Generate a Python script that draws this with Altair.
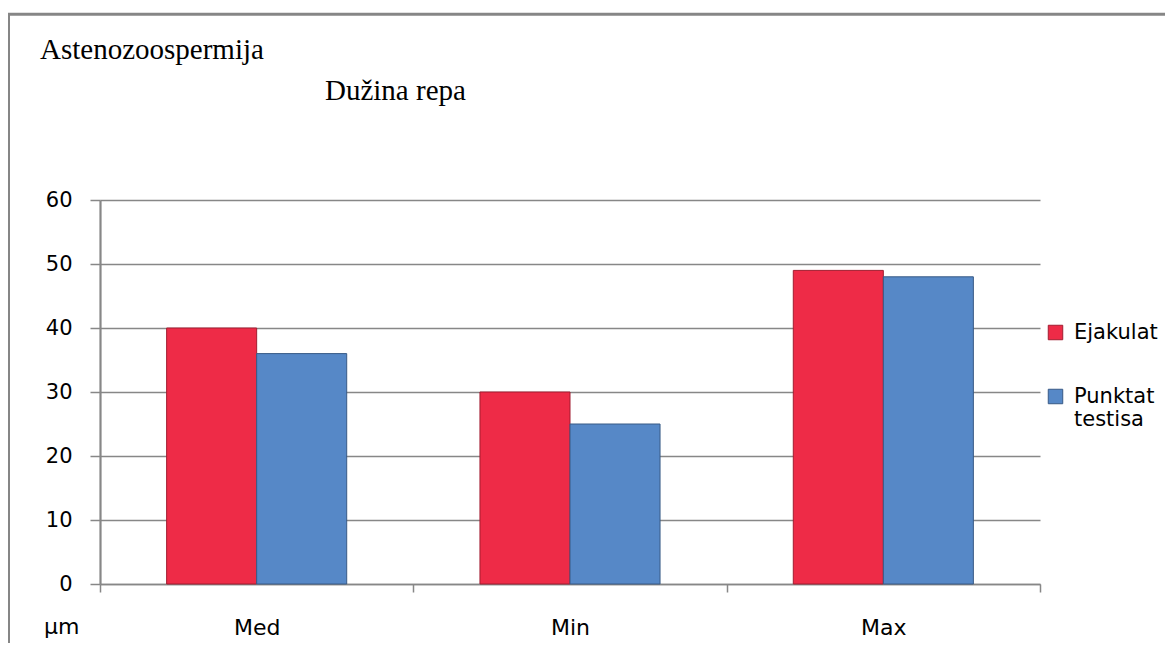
import altair as alt
import pandas as pd

categories = ["Med", "Min", "Max"]
series = ["Ejakulat", "Punktat testisa"]
ejakulat = [40, 30, 49]
punktat = [36, 25, 48]
y_ticks = [0, 10, 20, 30, 40, 50, 60]
title_main = "Astenozoospermija"
title_sub = "Dužina repa"
unit_label = "µm"

rows = []
for c, e, p in zip(categories, ejakulat, punktat):
    rows.append({"cat": c, "serie": series[0], "val": e})
    rows.append({"cat": c, "serie": series[1], "val": p})
df = pd.DataFrame(rows)

W, H = 940, 384
GRID = "#878787"
FONT = "DejaVu Sans"
one = pd.DataFrame({"t": [0]})

color = alt.Color(
    "serie:N",
    sort=series,
    scale=alt.Scale(domain=series, range=["#EE2B47", "#5688C7"]),
    legend=alt.Legend(
        title=None, orient="none", legendX=945, legendY=122,
        symbolType="square", symbolSize=210, symbolStrokeWidth=1,
        labelFont=FONT, labelFontSize=21, labelColor="#000",
        labelOffset=8, rowPadding=42, labelLimit=300, padding=0,
        labelExpr="split(datum.label, ' ')",
    ),
)

bars = alt.Chart(df).mark_bar(strokeWidth=1).encode(
    x=alt.X(
        "cat:N", sort=categories,
        scale=alt.Scale(paddingInner=0, paddingOuter=0),
        axis=alt.Axis(
            title=None, labelAngle=0, tickBand="extent", tickSize=8,
            tickColor=GRID, tickWidth=1.5, domainColor=GRID, domainWidth=1.5,
            labelPadding=25, labelFont=FONT, labelFontSize=22,
            labelColor="#000", grid=False,
        ),
    ),
    xOffset=alt.XOffset(
        "serie:N", sort=series,
        scale=alt.Scale(paddingOuter=0.74, paddingInner=0),
    ),
    y=alt.Y(
        "val:Q",
        scale=alt.Scale(domain=[0, 60], nice=False),
        axis=alt.Axis(
            values=y_ticks, title=None, tickSize=10, tickColor=GRID,
            tickWidth=1.5, domainColor=GRID, domainWidth=2.2,
            labelPadding=18, labelFont=FONT, labelFontSize=21,
            labelColor="#000", grid=True, gridColor=GRID, gridWidth=1.3,
        ),
    ),
    color=color,
    stroke=alt.Stroke(
        "serie:N", sort=series,
        scale=alt.Scale(domain=series, range=["#A11D30", "#385A86"]),
        legend=None,
    ),
)

t1 = alt.Chart(pd.DataFrame({"t": [title_main]})).mark_text(
    font="Liberation Serif", fontSize=29, align="left", baseline="alphabetic", color="#000"
).encode(text="t:N", x=alt.value(-60), y=alt.value(-141))

t2 = alt.Chart(pd.DataFrame({"t": [title_sub]})).mark_text(
    font="Liberation Serif", fontSize=29, align="left", baseline="alphabetic", color="#000"
).encode(text="t:N", x=alt.value(225), y=alt.value(-100))

unit = alt.Chart(pd.DataFrame({"t": [unit_label]})).mark_text(
    font=FONT, fontSize=22, align="left", baseline="alphabetic", color="#000"
).encode(text="t:N", x=alt.value(-56), y=alt.value(434))

border_top = alt.Chart(one).mark_rule(color="#868686", strokeWidth=3).encode(
    x=alt.value(-93), x2=alt.value(1080), y=alt.value(-185.7)
)
border_left = alt.Chart(one).mark_rule(color="#868686", strokeWidth=3).encode(
    x=alt.value(-91.5), y=alt.value(-187), y2=alt.value(460)
)

chart = alt.layer(bars, t1, t2, unit, border_top, border_left).properties(
    width=W, height=H,
    padding={"left": 92, "top": 192, "right": 125, "bottom": 59},
    autosize=alt.AutoSizeParams(type="none"),
).configure_view(stroke=None)

chart.save("out.html", embed_options={"renderer": "svg", "actions": False})
